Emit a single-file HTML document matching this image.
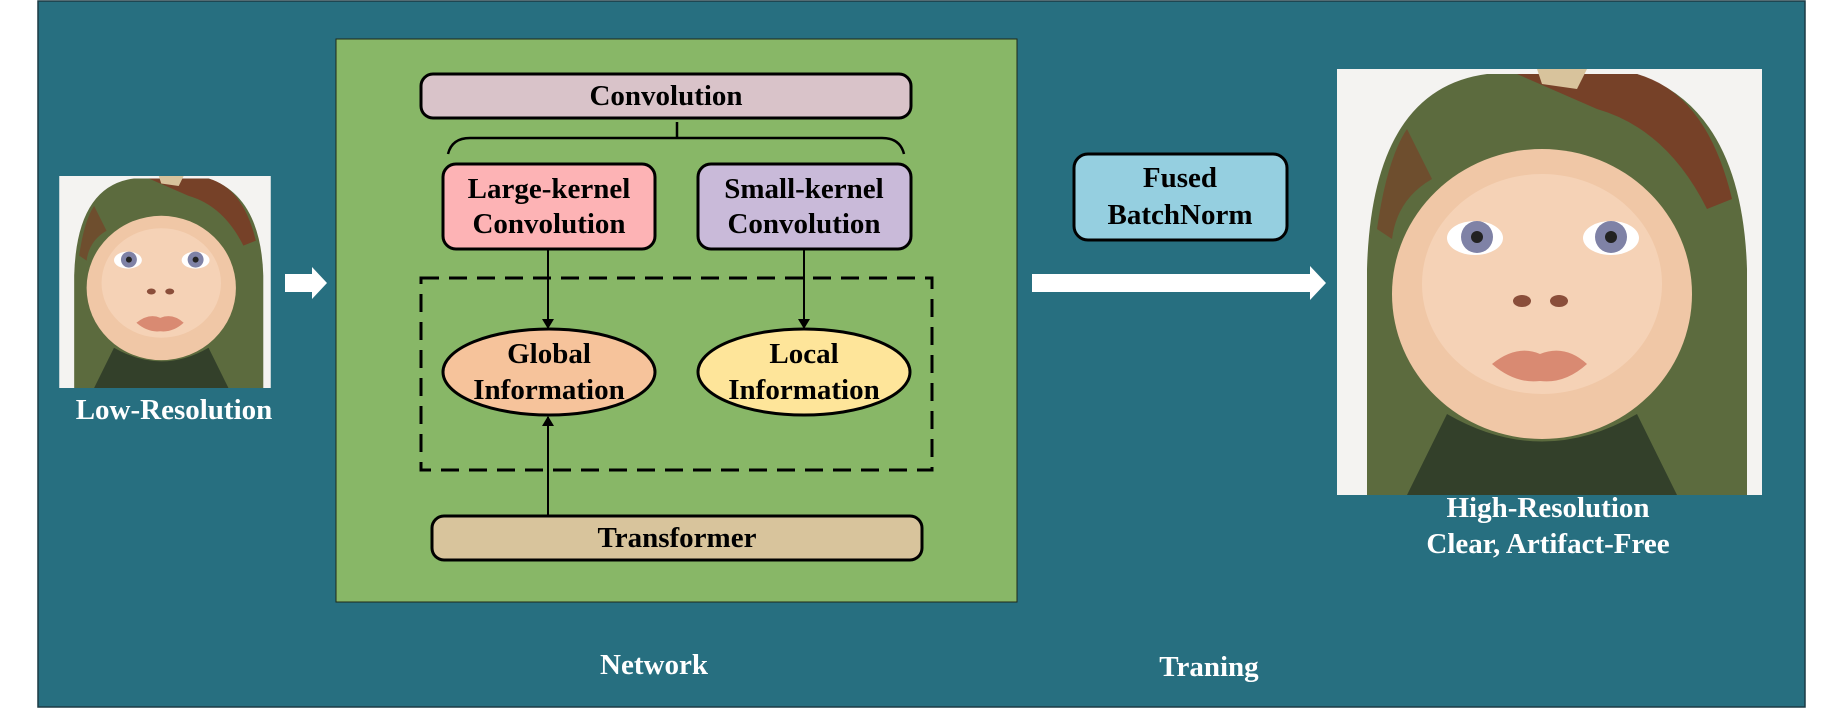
<!DOCTYPE html>
<html><head><meta charset="utf-8"><style>
html,body{margin:0;padding:0;background:#fff}
body{width:1843px;height:709px;overflow:hidden}
text{font-family:"Liberation Serif",serif;font-weight:bold}
</style></head><body>
<svg width="1843" height="709" viewBox="0 0 1843 709" xmlns="http://www.w3.org/2000/svg">
<defs>
<symbol id="baby" viewBox="0 0 425 426">
<rect width="425" height="426" fill="#f4f3f1"/>
<path d="M30 426 L30 200 Q35 20 150 5 L300 5 Q405 40 410 200 L410 426 Z" fill="#5c6b3e"/>
<path d="M180 5 L300 5 Q370 25 395 130 L370 140 Q330 60 260 40 Z" fill="#7a3a25" opacity="0.85"/>
<path d="M40 160 Q50 90 70 60 L95 110 Q60 130 55 170 Z" fill="#7a3a25" opacity="0.6"/>
<path d="M200 0 L250 0 L240 20 L205 15 Z" fill="#d8c39c"/>
<ellipse cx="205" cy="225" rx="150" ry="145" fill="#f0c7a6"/>
<ellipse cx="205" cy="215" rx="120" ry="110" fill="#f5d2b6"/>
<path d="M110 345 Q205 400 300 345 L340 426 L70 426 Z" fill="#33402a"/>
<ellipse cx="138" cy="169" rx="28" ry="17" fill="#fff"/>
<ellipse cx="274" cy="169" rx="28" ry="17" fill="#fff"/>
<circle cx="140" cy="168" r="16" fill="#7f82a6"/>
<circle cx="274" cy="168" r="16" fill="#7f82a6"/>
<circle cx="140" cy="168" r="6" fill="#222"/>
<circle cx="274" cy="168" r="6" fill="#222"/>
<ellipse cx="185" cy="232" rx="9" ry="6" fill="#8a4e3a"/>
<ellipse cx="222" cy="232" rx="9" ry="6" fill="#8a4e3a"/>
<path d="M155 295 Q180 275 203 285 Q228 275 250 295 Q228 315 203 312 Q178 315 155 295 Z" fill="#d98a72"/>
</symbol>
<marker id="ah" markerWidth="10" markerHeight="12" refX="9" refY="6" orient="auto" markerUnits="userSpaceOnUse">
<path d="M0 0 L10 6 L0 12 Z" fill="#000"/></marker>
</defs>
<rect x="38" y="1" width="1767" height="706" fill="#276f80" stroke="#1c3a44" stroke-width="1.5"/>
<rect x="336" y="39" width="681" height="563" fill="#88b767" stroke="#1f2a1a" stroke-width="1"/>
<rect x="421" y="74" width="490" height="44" rx="12" fill="#d9c3c9" stroke="#000" stroke-width="3"/>
<text x="666" y="105" font-size="29" text-anchor="middle">Convolution</text>
<path d="M677 122 L677 138 M448 154 Q452 138 470 138 L882 138 Q900 138 904 154" fill="none" stroke="#000" stroke-width="2.5"/>
<rect x="443" y="164" width="212" height="85" rx="13" fill="#fdb3b5" stroke="#000" stroke-width="3"/>
<text x="549" y="198" font-size="29" text-anchor="middle">Large-kernel</text>
<text x="549" y="233" font-size="29" text-anchor="middle">Convolution</text>
<rect x="698" y="164" width="213" height="85" rx="13" fill="#c9bad9" stroke="#000" stroke-width="3"/>
<text x="804" y="198" font-size="29" text-anchor="middle">Small-kernel</text>
<text x="804" y="233" font-size="29" text-anchor="middle">Convolution</text>
<rect x="421" y="278" width="511" height="192" fill="none" stroke="#000" stroke-width="3" stroke-dasharray="18,10"/>
<line x1="548" y1="249" x2="548" y2="328" stroke="#000" stroke-width="2" marker-end="url(#ah)"/>
<line x1="804" y1="249" x2="804" y2="328" stroke="#000" stroke-width="2" marker-end="url(#ah)"/>
<ellipse cx="549" cy="372" rx="106" ry="43" fill="#f6c39b" stroke="#000" stroke-width="3"/>
<text x="549" y="363" font-size="29" text-anchor="middle">Global</text>
<text x="549" y="399" font-size="29" text-anchor="middle">Information</text>
<ellipse cx="804" cy="372" rx="106" ry="43" fill="#fee59a" stroke="#000" stroke-width="3"/>
<text x="804" y="363" font-size="29" text-anchor="middle">Local</text>
<text x="804" y="399" font-size="29" text-anchor="middle">Information</text>
<line x1="548" y1="516" x2="548" y2="417" stroke="#000" stroke-width="2" marker-end="url(#ah)"/>
<rect x="432" y="516" width="490" height="44" rx="12" fill="#d8c49c" stroke="#000" stroke-width="3"/>
<text x="677" y="547" font-size="29" text-anchor="middle">Transformer</text>
<use href="#baby" x="59" y="176" width="212" height="212" preserveAspectRatio="none"/>
<text x="174" y="419" font-size="29" fill="#fff" text-anchor="middle">Low-Resolution</text>
<path d="M285 274 L312 274 L312 267 L327 283 L312 299 L312 292 L285 292 Z" fill="#fff"/>
<text x="654" y="674" font-size="29" fill="#fff" text-anchor="middle">Network</text>
<rect x="1074" y="154" width="213" height="86" rx="14" fill="#95cfe0" stroke="#000" stroke-width="3"/>
<text x="1180" y="187" font-size="29" text-anchor="middle">Fused</text>
<text x="1180" y="224" font-size="29" text-anchor="middle">BatchNorm</text>
<path d="M1032 274 L1310 274 L1310 266 L1326 283 L1310 300 L1310 292 L1032 292 Z" fill="#fff"/>
<use href="#baby" x="1337" y="69" width="425" height="426" preserveAspectRatio="none"/>
<text x="1548" y="517" font-size="29" fill="#fff" text-anchor="middle">High-Resolution</text>
<text x="1548" y="553" font-size="29" fill="#fff" text-anchor="middle">Clear, Artifact-Free</text>
<text x="1209" y="676" font-size="29" fill="#fff" text-anchor="middle">Traning</text>
</svg>
</body></html>
